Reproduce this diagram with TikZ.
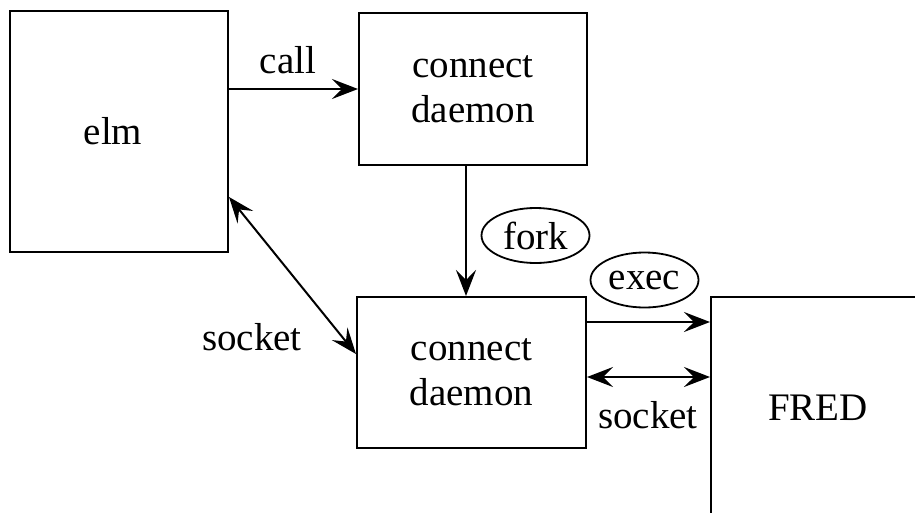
\documentclass[tikz,border=0pt]{standalone}
\usepackage{fontspec}
\setmainfont{Liberation Serif}
\usetikzlibrary{arrows.meta,shapes.geometric,calc}
\begin{document}
\begin{tikzpicture}[x=1pt,y=-1pt,
  every node/.style={font=\fontsize{39}{45}\selectfont},
  box/.style={draw,line width=2pt,inner sep=0pt,align=center},
  tag/.style={draw,ellipse,line width=1.8pt,inner sep=0pt,minimum width=108pt,minimum height=55pt},
  lbl/.style={inner sep=0pt},
  tip/.tip={Stealth[length=26pt,width=20pt,inset=10pt]},
  link/.style={line width=2pt,-tip},
  duplex/.style={line width=2pt,tip-tip}]
  \useasboundingbox (0,0) rectangle (915,512);
  \clip (0,0) rectangle (915,512);

  % processes
  \node[box,minimum width=218pt,minimum height=241pt] (elm) at (119,131.5) {elm\hspace{12pt}};
  \node[box,minimum width=228pt,minimum height=152pt] (top) at (473,89) {connect\\daemon};
  \node[box,minimum width=229pt,minimum height=151pt] (bot) at (471.5,372.5) {connect\\daemon};
  \node[box,minimum width=214pt,minimum height=222pt,anchor=north west] (fred) at (710,296) {FRED};

  % labels
  \node[lbl] (call) at (288,60) {call};
  \node[tag] (fork) at (535.5,235.5) {fork};
  \node[tag] (exec) at (644.5,280) {exec};
  \node[lbl] (sockL) at (252,337) {socket};
  \node[lbl] (sockR) at (648,415) {socket};

  % connectors
  \draw[link] (top.west -| elm.east) -- (top.west);
  \draw[link] ([xshift=-7pt]top.south) -- ([xshift=-5.5pt]bot.north);
  \draw[link] ([yshift=-26pt]bot.north east) -- ([yshift=-26pt]bot.north east -| fred.west);
  \draw[duplex] ([yshift=-4.5pt]bot.east) -- ([yshift=-4.5pt]bot.east -| fred.west);
  \draw[duplex] ([yshift=-187pt]elm.north east) -- ([yshift=-58pt]bot.north west);
\end{tikzpicture}
\end{document}
